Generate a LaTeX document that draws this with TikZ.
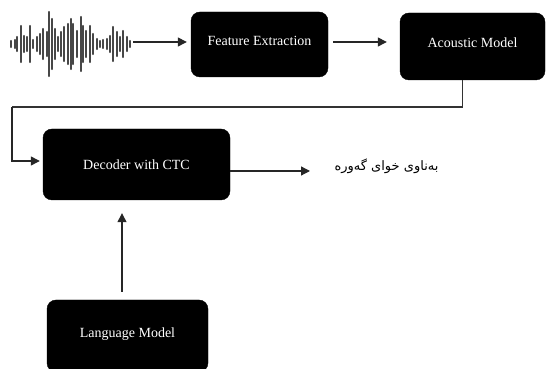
\documentclass[tikz,border=0pt]{standalone}
\usepackage{fontspec}
\setmainfont{Liberation Serif}
\newfontfamily\arabicfont[Script=Arabic]{DejaVu Sans}
\TeXXeTstate=1
\usetikzlibrary{arrows.meta,positioning,calc}

\begin{document}
\begin{tikzpicture}[
    x=1pt, y=1pt,
    stage/.style={rectangle, fill=black, draw=black, rounded corners=9pt, text=white, font=\fontsize{14}{16}\selectfont, inner sep=0pt},
    raised/.style={text height=10pt, text depth=8pt},
    arrow/.style={-{Triangle[length=9pt,width=9pt]}, line width=1.3pt, black!85},
    wire/.style={line width=1.3pt, black!80},
    bar/.style={line width=2.2pt, black!72, line cap=round}
]
    \useasboundingbox (0,0) rectangle (547,369);

    % Waveform
    \foreach \px/\h in {11/3, 15/4, 17/7, 21/18, 24/8, 27/7, 30/18, 33/4, 37/7, 40/10,
                        43/15, 47/12, 49/32, 52/25, 55/15, 58/7, 61/12, 64/17, 68/20, 71/25,
                        73/20, 77/13, 81/27, 83/18, 86/13, 90/18, 93/10, 97/5, 100/3, 103/4,
                        107/5, 110/8, 113/17, 117/12, 120/7, 123/13, 127/7, 130/3}
        \draw[bar] (\px,325-\h) -- (\px,325+\h);
    \coordinate (wave) at (133,327);

    % Stages
    \node[stage, raised, minimum width=137pt, minimum height=65pt] (feat) at (259.5,324.5) {Feature Extraction};
    \node[stage, raised, minimum width=145pt, minimum height=67pt] (acou) at (472.5,322.5) {Acoustic Model};
    \node[stage, minimum width=187pt, minimum height=71pt] (dec) at (136.5,204.5) {Decoder with CTC};
    \node[stage, text height=10pt, text depth=6pt, minimum width=161pt, minimum height=72pt] (lang) at (127.5,33) {Language Model};

    % Output text
    \node[font=\fontsize{13}{15}\selectfont] (out) at (386.5,203) {\arabicfont\beginR بەناوی خوای گەورە\endR};
    \coordinate (outend) at (310,198);

    % Connectors
    \coordinate (bend) at (12,262);
    \draw[arrow, shorten >=4pt] (wave) -- ([yshift=2.5pt]feat.west);
    \draw[arrow, shorten <=5pt, shorten >=13pt] ([yshift=2.5pt]feat.east) -- ([yshift=4.5pt]acou.west);
    \draw[wire] ([xshift=-10pt]acou.south) |- (bend);
    \draw[arrow, shorten >=3pt] (bend) |- ([yshift=3.5pt]dec.west);
    \draw[arrow] ([yshift=-6.5pt]dec.east) -- (outend);
    \draw[arrow, shorten <=8pt, shorten >=13pt] ([xshift=-5.5pt]lang.north) -- ([xshift=-5.5pt]lang.north |- dec.south);
\end{tikzpicture}
\end{document}
